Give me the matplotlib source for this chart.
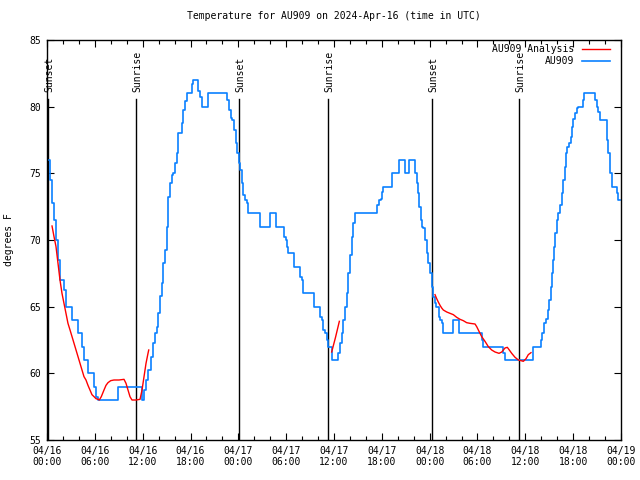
import matplotlib
matplotlib.use("Agg")
import matplotlib.pyplot as plt
from matplotlib.ticker import MultipleLocator
from matplotlib.lines import Line2D

# hours since 2024-04-16 00:00 UTC
obs_hours = [0.13, 0.38, 0.63, 0.88, 1.13, 1.38, 1.63, 2.13, 2.38, 3.14, 3.89, 4.39, 4.64, 5.14,
             5.90, 6.15, 6.40, 8.91, 11.92, 12.17, 12.42, 12.71, 13.01, 13.26, 13.55, 13.76,
             13.96, 14.17, 14.39, 14.59, 14.80, 15.01, 15.22, 15.43, 15.64, 15.84, 16.06,
             16.27, 16.47, 16.90, 17.10, 17.31, 17.52, 18.15, 18.28, 18.98, 19.19, 19.48,
             20.16, 22.62, 22.83, 23.04, 23.24, 23.46, 23.67, 23.87, 24.08,
             24.21, 24.42, 24.62, 24.84, 25.05, 25.25, 26.76, 28.01, 28.76, 29.73, 29.94,
             30.14, 30.27, 30.98, 31.74, 31.95, 32.15, 33.49, 34.24, 34.46, 34.66, 34.87,
             35.08, 35.28, 35.71, 36.54, 36.75, 36.97, 37.17, 37.38, 37.59, 37.79, 38.01,
             38.22, 38.42, 38.64, 41.43, 41.65, 41.86, 42.06, 42.19, 43.31, 44.19, 44.91,
             45.41, 46.16, 46.38, 46.58, 46.70, 46.88, 47.04, 47.20, 47.42, 47.63, 47.83,
             48.04, 48.26, 48.46, 48.67, 48.79, 49.13, 49.30, 49.51, 49.71, 50.97, 51.72,
             54.57, 54.74, 57.24, 57.45, 61.00, 61.93, 62.13, 62.34, 62.59, 62.81, 63.01,
             63.22, 63.35, 63.47, 63.60, 63.72, 63.94, 64.14, 64.35, 64.56, 64.77, 64.98,
             65.07, 65.19, 65.48, 65.70, 65.86, 66.03, 66.24, 66.44, 66.65, 67.20, 67.36,
             68.74, 68.95, 69.15, 69.36, 70.21, 70.41, 70.62, 70.83, 71.46, 71.66, 71.88]
obs_temps = [76.0, 74.5, 72.8, 71.5, 70.0, 68.5, 67.0, 66.25, 65.0, 64.0, 63.0, 62.0, 61.0, 60.0,
             59.0, 58.2, 58.0, 59.0, 58.0, 58.75, 59.5, 60.25, 61.25, 62.3, 63.0, 63.5,
             64.5, 65.8, 66.8, 68.3, 69.25, 71.0, 73.25, 74.3, 74.9, 75.0, 75.8,
             76.5, 78.0, 78.8, 79.75, 80.4, 81.0, 81.7, 82.0, 81.2, 80.7, 80.0,
             81.0, 80.5, 79.75, 79.15, 79.0, 78.25, 77.3, 76.5, 75.8,
             75.25, 74.25, 73.4, 73.0, 72.75, 72.0, 71.0, 72.0, 71.0, 70.25, 70.0,
             69.5, 69.0, 68.0, 67.25, 67.0, 66.0, 65.0, 64.25, 64.0, 63.25, 63.0,
             62.5, 62.0, 61.0, 61.5, 62.25, 63.0, 64.0, 65.0, 66.0, 67.5, 68.9,
             70.2, 71.3, 72.0, 72.6, 73.0, 73.1, 73.6, 74.0, 75.0, 76.0, 75.0,
             76.0, 75.0, 74.25, 73.5, 72.5, 71.5, 71.0, 70.9, 70.0, 69.0, 68.25,
             67.5, 66.5, 65.75, 65.25, 65.0, 64.25, 64.0, 63.75, 63.0, 64.0, 63.0,
             62.5, 62.0, 61.5, 61.0, 62.0, 62.5, 63.0, 63.75, 64.1, 64.75, 65.5,
             66.5, 67.5, 68.5, 69.5, 70.5, 71.5, 72.0, 72.6, 73.5, 74.5, 75.5,
             76.5, 77.0, 77.25, 77.75, 78.5, 79.1, 79.5, 79.9, 80.0, 80.5, 81.0,
             80.5, 80.0, 79.6, 79.0, 77.5, 76.5, 75.0, 74.0, 73.5, 73.0, 73.0]

# analysis series (three separate pieces)
ana1_hours = [0.63, 0.88, 1.13, 1.38, 1.63, 1.88, 2.13, 2.38, 2.63, 2.89, 3.14, 3.39, 3.64, 3.89,
              4.14, 4.39, 4.64, 4.89, 5.14, 5.39, 5.64, 5.90, 6.15, 6.40, 6.56, 6.81, 7.15,
              7.40, 7.65, 7.99, 8.40, 9.03, 9.66, 9.91, 10.16, 10.41, 10.66, 11.16, 11.67,
              11.92, 12.17, 12.42, 12.67, 12.76]
ana1_temps = [71.05, 70.25, 69.5, 68.25, 67.0, 66.0, 65.25, 64.5, 63.75, 63.25, 62.75, 62.25,
              61.75, 61.25, 60.75, 60.25, 59.75, 59.5, 59.1, 58.75, 58.4, 58.25, 58.1, 58.05,
              58.0, 58.25, 58.75, 59.1, 59.3, 59.45, 59.5, 59.5, 59.55, 59.25, 58.75, 58.25,
              58.0, 58.0, 58.05, 58.75, 59.75, 60.75, 61.5, 61.75]
ana2_hours = [35.71, 36.19, 36.67]
ana2_temps = [61.6, 62.7, 63.9]
ana3_hours = [48.67, 48.88, 49.08, 49.30, 49.51, 49.71, 50.14, 50.55, 50.97, 51.39, 51.81,
              52.22, 52.64, 53.06, 53.69, 53.90, 54.23, 54.53, 54.94, 55.36, 55.78, 56.20,
              56.70, 57.04, 57.45, 57.74, 57.99, 58.29, 58.71, 59.13, 59.46, 59.75, 60.09,
              60.37, 60.71]
ana3_temps = [65.9, 65.6, 65.35, 65.1, 64.9, 64.75, 64.6, 64.5, 64.4, 64.2, 64.05, 63.95,
              63.8, 63.75, 63.7, 63.5, 63.1, 62.75, 62.4, 62.0, 61.75, 61.6, 61.5, 61.6,
              61.9, 61.95, 61.75, 61.5, 61.2, 61.0, 60.95, 60.9, 61.1, 61.4, 61.55]

sunset_hours = [0.13, 24.12, 48.26]
sunrise_hours = [11.2, 35.29, 59.25]

tick_hours = list(range(0, 73, 6))
tick_labels = ["04/16\n00:00", "04/16\n06:00", "04/16\n12:00", "04/16\n18:00",
               "04/17\n00:00", "04/17\n06:00", "04/17\n12:00", "04/17\n18:00",
               "04/18\n00:00", "04/18\n06:00", "04/18\n12:00", "04/18\n18:00",
               "04/19\n00:00"]

FONT = "DejaVu Sans Mono"
FS = 7
BLUE = "#0a80ff"
RED = "#ff0000"

fig = plt.figure(figsize=(6.4, 4.8), dpi=100)
ax = fig.add_axes([47/640, 40/480, 574/640, 400/480])

ax.set_xlim(0, 72)
ax.set_ylim(55, 85)

for h in sunset_hours + sunrise_hours:
    ax.plot([h, h], [55, 80.55], color="black", lw=1.0, zorder=1)
for h in sunset_hours:
    ax.text(h + 0.18, 81.1, "Sunset", rotation=90, ha="center", va="bottom",
            family=FONT, fontsize=FS)
for h in sunrise_hours:
    ax.text(h + 0.1, 81.1, "Sunrise", rotation=90, ha="center", va="bottom",
            family=FONT, fontsize=FS)

ax.plot(obs_hours, obs_temps, color=BLUE, lw=1.2, drawstyle="steps-post", zorder=2)
for hh, tt in [(ana1_hours, ana1_temps), (ana2_hours, ana2_temps), (ana3_hours, ana3_temps)]:
    ax.plot(hh, tt, color=RED, lw=1.0, zorder=3)

ax.set_xticks(tick_hours)
ax.set_xticklabels(tick_labels, family=FONT, fontsize=FS)
ax.xaxis.set_minor_locator(MultipleLocator(2))
ax.set_yticks(range(55, 86, 5))
ax.set_yticklabels([str(v) for v in range(55, 86, 5)], family=FONT, fontsize=FS)
ax.tick_params(which="both", direction="in", top=True, right=True, width=0.8)
ax.tick_params(which="major", length=5, pad=4)
ax.tick_params(which="minor", length=3)
for s in ax.spines.values():
    s.set_linewidth(1.0)

ax.set_ylabel("degrees F", family=FONT, fontsize=FS, labelpad=11)
ax.set_title("Temperature for AU909 on 2024-Apr-16 (time in UTC)", family=FONT,
             fontsize=FS, pad=15)

handles = [Line2D([], [], color=RED, lw=1.0), Line2D([], [], color=BLUE, lw=1.2)]
leg = ax.legend(handles, ["AU909 Analysis", "AU909"], loc="upper right",
                bbox_to_anchor=(1 - 11/574, 1 - 4/400), borderaxespad=0, borderpad=0,
                frameon=False, markerfirst=False, handlelength=2.9, handletextpad=0.8,
                labelspacing=0.25, prop={"family": FONT, "size": FS})

fig.savefig("out.png", dpi=100)
